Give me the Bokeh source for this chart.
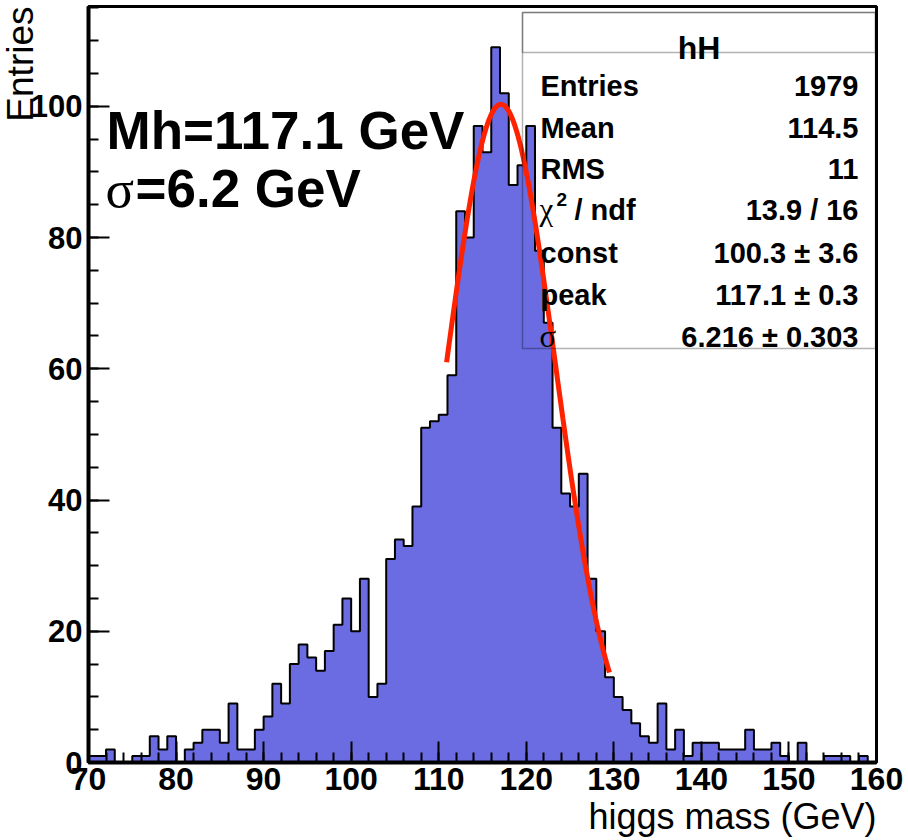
import numpy as np
from bokeh.plotting import figure
from bokeh.models import Range1d, SingleIntervalTicker, Label, BoxAnnotation, Title
from bokeh.embed import file_html
from bokeh.resources import INLINE

# ---- histogram "hH": higgs mass, 1 GeV bins from 70 to 160 ----
bin_lo, bin_hi = 70, 160
counts = [
    1, 1, 2, 0, 0, 1, 1, 4, 2, 4,            # 70-79
    0, 2, 3, 5, 5, 3, 9, 2, 2, 5,            # 80-89
    7, 12, 9, 15, 18, 16, 14, 17, 21, 25,    # 90-99
    20, 28, 10, 12, 31, 34, 33, 39, 51, 52,  # 100-109
    53, 59, 84, 80, 97, 93, 109, 102, 88, 91,  # 110-119
    97, 78, 67, 51, 41, 39, 44, 28, 20, 13,  # 120-129
    10, 8, 6, 4, 3, 9, 2, 5, 1, 3,           # 130-139
    3, 3, 2, 2, 2, 5, 2, 2, 3, 1,            # 140-149
    0, 3, 0, 0, 1, 1, 1, 0, 1, 0,            # 150-159
]

# ---- statistics and gaussian fit results ----
entries = 1979
mean = 114.5
rms = 11
chi2, ndf = 13.9, 16
const, const_err = 100.3, 3.6
peak, peak_err = 117.1, 0.3
sigma, sigma_err = 6.216, 0.303
fit_lo, fit_hi = 110.9, 129.5

x_title = "higgs mass (GeV)"
y_title = "Entries"

BLUE = "#6b6be2"
RED = "#ff2200"
SANS = "Liberation Sans"
SERIF = "Liberation Serif"

W, H = 908, 840
FL, FR, FT, FB = 88, 876, 6, 762      # frame edges in canvas pixels
YMAX = 115.2

p = figure(width=W, height=H, x_range=Range1d(bin_lo, bin_hi), y_range=Range1d(0, YMAX),
           output_backend="svg", toolbar_location=None,
           min_border_left=FL, min_border_right=W - FR,
           min_border_top=FT, min_border_bottom=H - FB)
p.grid.visible = False
p.background_fill_color = "white"
p.border_fill_color = "white"
p.outline_line_color = "black"
p.outline_line_width = 3


def px2x(px):
    return bin_lo + (px - FL) * (bin_hi - bin_lo) / (FR - FL)


def py2y(py):
    return YMAX * (FB - py) / (FB - FT)


# ---- histogram: one filled step polygon plus its black contour ----
edges = np.arange(bin_lo, bin_hi + 1)
c = np.array(counts, dtype=float)
xs = [edges[0]]
ys = [0.0]
for i, v in enumerate(c):
    xs += [edges[i], edges[i + 1]]
    ys += [v, v]
xs.append(edges[-1])
ys.append(0.0)
p.patch(xs, ys, fill_color=BLUE, line_color=None)
p.line(xs, ys, line_color="black", line_width=2)

# ---- gaussian fit curve ----
fx = np.linspace(fit_lo, fit_hi, 120)
fy = const * np.exp(-0.5 * ((fx - peak) / sigma) ** 2)
p.line(fx, fy, line_color=RED, line_width=5)

# ---- axes ----
for ax, interval, nminor in ((p.xaxis[0], 10, 5), (p.yaxis[0], 20, 4)):
    ax.ticker = SingleIntervalTicker(interval=interval, num_minor_ticks=nminor)
    ax.major_tick_in = 21
    ax.major_tick_out = 0
    ax.minor_tick_in = 10
    ax.minor_tick_out = 0
    ax.major_tick_line_width = 2
    ax.minor_tick_line_width = 2
    ax.axis_line_width = 4
    ax.major_label_text_font = SANS
    ax.major_label_text_font_style = "bold"
    ax.major_label_text_color = "black"
p.xaxis.major_label_text_font_size = "32px"
p.yaxis.major_label_text_font_size = "31px"
p.xaxis.major_label_standoff = 5
p.yaxis.major_label_standoff = 6

# axis titles, flush with the far ends of the axes
p.add_layout(Title(text=x_title, align="right", text_font=SANS, text_font_size="36px",
                   text_font_style="normal", text_color="black", standoff=2), "below")
p.add_layout(Title(text=y_title, align="right", text_font=SANS, text_font_size="37px",
                   text_font_style="normal", text_color="black", standoff=-27), "left")
# thin blank margin outside the y title
p.add_layout(Title(text=" ", text_font_size="5px", standoff=0), "left")


def label(px, py, text, size, font=SANS, style="bold", align="left"):
    p.add_layout(Label(x=px2x(px), y=py2y(py), text=text, text_align=align,
                       text_baseline="alphabetic", text_font=font,
                       text_font_style=style, text_font_size=size,
                       text_color="black"))


# ---- fit summary written on the pad ----
label(106, 130, f"Mh={peak:.1f} GeV", "53px")
label(105, 188, "\u03c3", "53px", font=SERIF, style="normal")
label(135, 188, f"={sigma:.1f} GeV", "53px")

# ---- statistics box ----
SB_L, SB_R, SB_T, SB_B, SB_HEAD = 522, 875, 12, 348, 52
p.add_layout(BoxAnnotation(left=px2x(SB_L), right=px2x(SB_R), top=py2y(SB_T), bottom=py2y(SB_B),
                           fill_alpha=0, line_color="black", line_width=1.5))
p.add_layout(BoxAnnotation(left=px2x(SB_L), right=px2x(SB_R), top=py2y(SB_T), bottom=py2y(SB_HEAD),
                           fill_alpha=0, line_color="black", line_width=1.5))
label((SB_L + SB_R) / 2, 47, "hH", "32px", align="center")

rows = [
    ("Entries", f"{entries}", 85),
    ("Mean", f"{mean:.1f}", 127),
    ("RMS", f"{rms}", 168),
    (None, f"{chi2:.1f} / {ndf}", 209),
    ("const", f"{const:.1f} \u00b1 {const_err:.1f}", 252),
    ("peak", f"{peak:.1f} \u00b1 {peak_err:.1f}", 294),
    (None, f"{sigma:.3f} \u00b1 {sigma_err:.3f}", 336),
]
for name, val, base in rows:
    if name is not None:
        label(540, base, name, "29px")
    label(858, base, val, "29px", align="right")

# chi2 / ndf and sigma row labels with greek glyphs
label(539, 209, "\u03c7", "31px", font=SERIF, style="normal")
label(556, 199, "2", "19px")
label(574, 209, "/ ndf", "29px")
label(539, 336, "\u03c3", "31px", font=SERIF, style="normal")

open("out.html", "w").write(file_html(p, INLINE))
